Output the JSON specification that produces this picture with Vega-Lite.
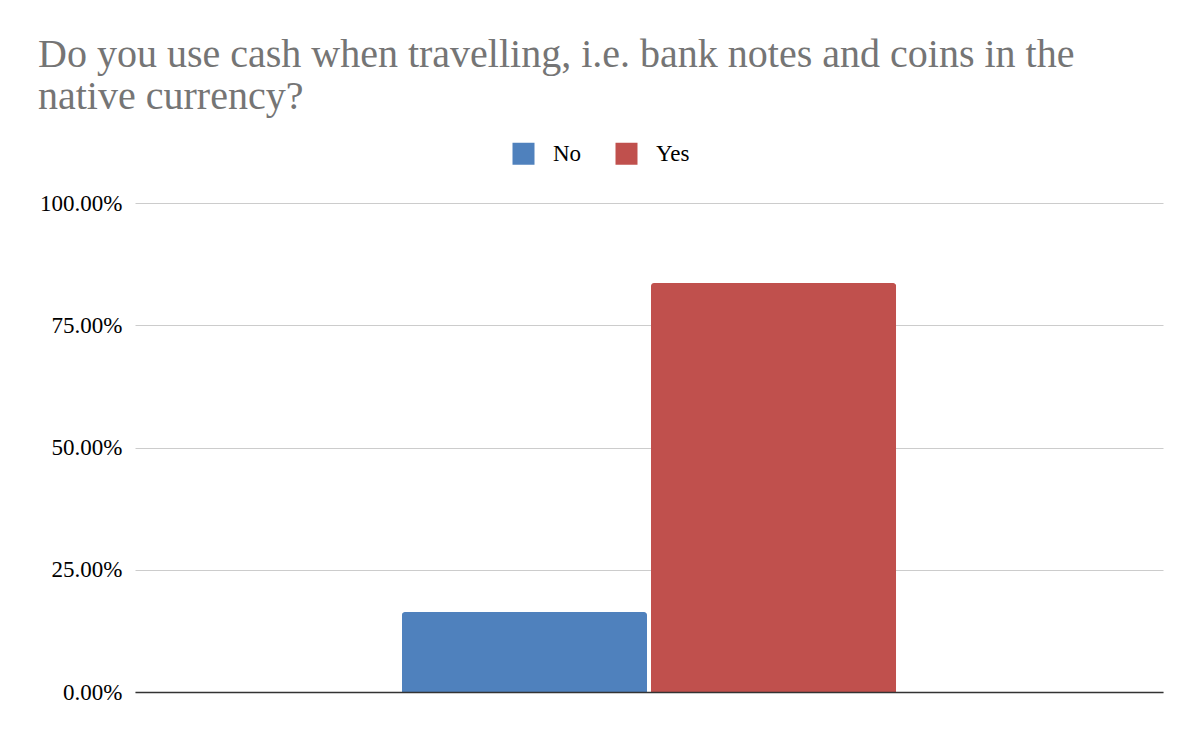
{
  "$schema": "https://vega.github.io/schema/vega-lite/v6.json",
  "width": 1028,
  "height": 489,
  "autosize": {"type": "none"},
  "padding": {"left": 135, "top": 203, "right": 37, "bottom": 50},
  "background": "white",
  "title": {
    "text": ["Do you use cash when travelling, i.e. bank notes and coins in the", "native currency?"],
    "anchor": "start",
    "frame": "group",
    "dx": -97,
    "offset": 25,
    "font": "Liberation Serif",
    "fontSize": 40,
    "fontWeight": "normal",
    "color": "#757575",
    "lineHeight": 42
  },
  "data": {
    "values": [
      {"question": "cash", "answer": "No", "share": 0.1636},
      {"question": "cash", "answer": "Yes", "share": 0.8364}
    ]
  },
  "mark": {"type": "bar", "cornerRadiusTopLeft": 3, "cornerRadiusTopRight": 3},
  "encoding": {
    "x": {
      "field": "question",
      "type": "nominal",
      "scale": {"paddingInner": 0, "paddingOuter": 0.54},
      "axis": {
        "labels": false,
        "ticks": false,
        "title": null,
        "domain": true,
        "domainColor": "#333333",
        "domainWidth": 1.5,
        "zindex": 2
      }
    },
    "xOffset": {
      "field": "answer",
      "type": "nominal",
      "sort": ["No", "Yes"],
      "scale": {"paddingInner": 0.016, "paddingOuter": 0}
    },
    "y": {
      "field": "share",
      "type": "quantitative",
      "scale": {"domain": [0, 1], "nice": false},
      "axis": {
        "values": [0, 0.25, 0.5, 0.75, 1],
        "format": ".2%",
        "title": null,
        "domain": false,
        "ticks": false,
        "grid": true,
        "gridColor": "#cccccc",
        "gridWidth": 1,
        "labelFont": "Liberation Serif",
        "labelFontSize": 23,
        "labelColor": "#000000",
        "labelPadding": 13
      }
    },
    "color": {
      "field": "answer",
      "type": "nominal",
      "scale": {"domain": ["No", "Yes"], "range": ["#4F81BD", "#C0504D"]},
      "legend": {
        "orient": "none",
        "direction": "horizontal",
        "legendX": 377,
        "legendY": -61,
        "title": null,
        "symbolType": "square",
        "symbolSize": 484,
        "symbolStrokeWidth": 0,
        "labelFont": "Liberation Serif",
        "labelFontSize": 23,
        "labelColor": "#000000",
        "labelOffset": 18,
        "columnPadding": 33
      }
    }
  },
  "config": {"view": {"stroke": null}}
}
